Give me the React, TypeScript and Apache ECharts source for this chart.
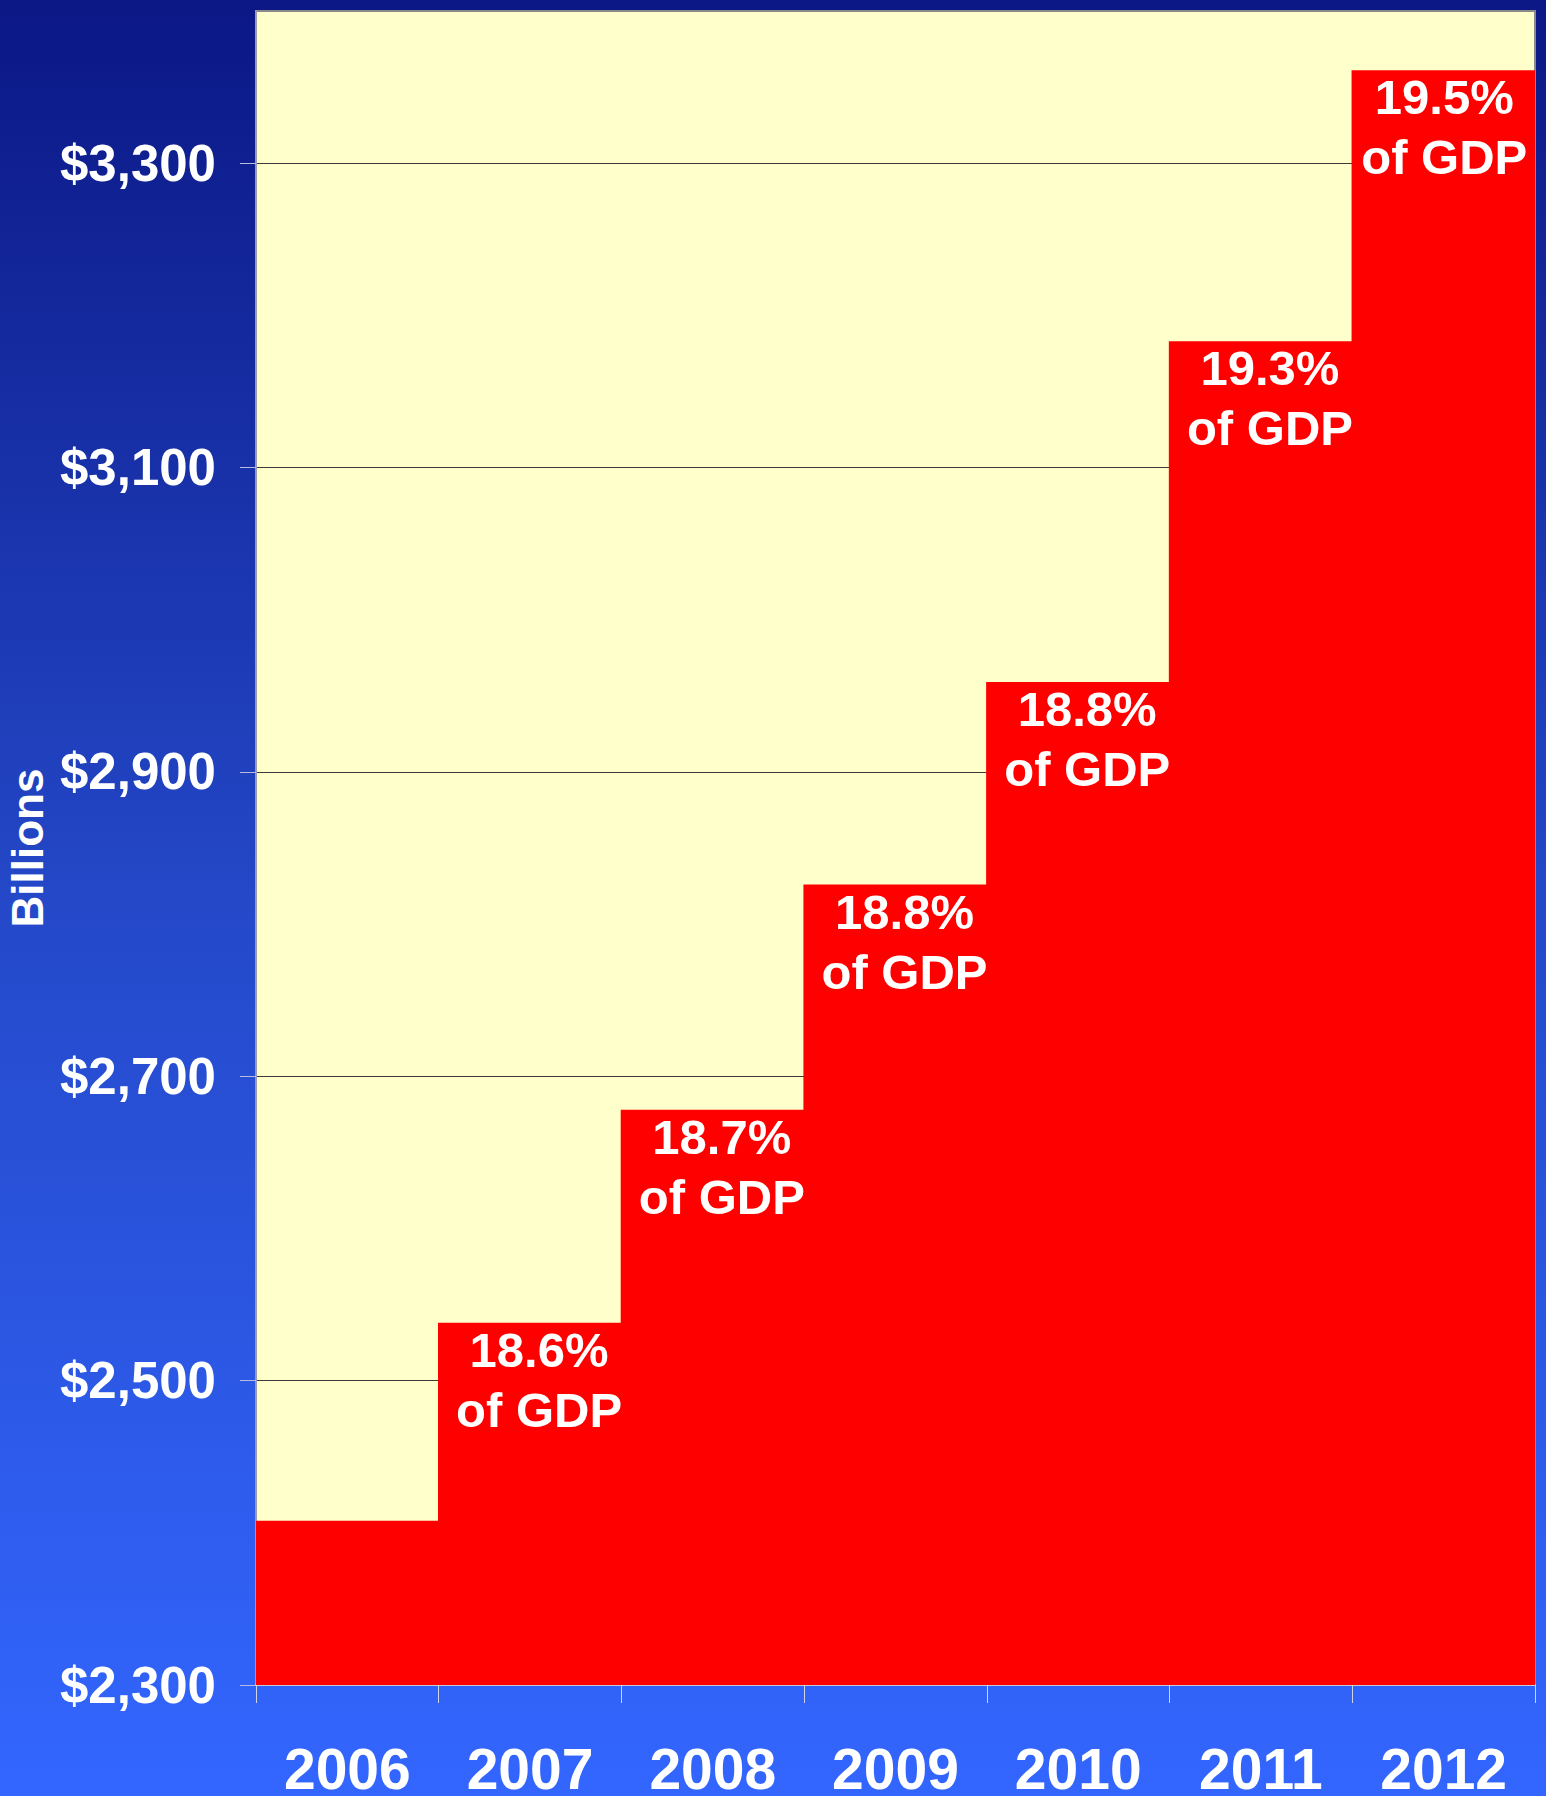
import React, { useEffect, useRef } from "react";
import * as echarts from "echarts";

const years = ["2006", "2007", "2008", "2009", "2010", "2011", "2012"];
const revenueBillions = [2408, 2538, 2678, 2826, 2959, 3183, 3361];
const gdpShare = ["", "18.6%", "18.7%", "18.8%", "18.8%", "19.3%", "19.5%"];
const yTickValues = [2300, 2500, 2700, 2900, 3100, 3300];
const yMin = 2300;
const yMax = 3400;

const FONT = '"Liberation Sans", Arial, Helvetica, sans-serif';

export default function App() {
  const ref = useRef<HTMLDivElement>(null);

  useEffect(() => {
    if (!ref.current) return;
    const chart = echarts.init(ref.current, undefined, { renderer: "svg" });
    const last = revenueBillions.length - 1;
    const barData = revenueBillions.map((v, i) => ({
      value: v,
      label: { offset: [i === last ? 1 : 9, 0] },
    }));
    chart.setOption({
      animation: false,
      backgroundColor: new echarts.graphic.LinearGradient(0, 0, 0, 1, [
        { offset: 0, color: "#0B1785" },
        { offset: 0.5, color: "#2448C8" },
        { offset: 1, color: "#3366FF" },
      ]),
      textStyle: { fontFamily: FONT },
      grid: {
        left: 256,
        right: 11,
        top: 11,
        bottom: 111,
        containLabel: false,
        outerBoundsMode: "none",
        show: true,
        backgroundColor: "#FFFFCC",
        borderColor: "#8a8a8a",
        borderWidth: 2,
      },
      xAxis: {
        type: "category",
        data: years,
        boundaryGap: true,
        axisLine: { show: true, lineStyle: { color: "#c8c8d0", width: 2 } },
        axisTick: {
          show: true,
          alignWithLabel: false,
          length: 18,
          lineStyle: { color: "#d0d4e8", width: 1 },
        },
        axisLabel: {
          color: "#ffffff",
          fontWeight: "bold",
          fontSize: 57,
          lineHeight: 44,
          fontFamily: FONT,
          margin: 62,
        },
        splitLine: { show: false },
      },
      yAxis: {
        type: "value",
        min: yMin,
        max: yMax,
        name: "Billions",
        nameLocation: "middle",
        nameGap: 205,
        nameRotate: 90,
        nameTextStyle: {
          color: "#ffffff",
          fontWeight: "bold",
          fontSize: 44,
          fontFamily: FONT,
        },
        axisLine: { show: true, lineStyle: { color: "#9a9aa8", width: 2 } },
        axisTick: {
          show: true,
          length: 16,
          customValues: yTickValues,
          lineStyle: { color: "#b8bde0", width: 1 },
        },
        axisLabel: {
          customValues: yTickValues,
          color: "#ffffff",
          fontWeight: "bold",
          fontSize: 51,
          fontFamily: FONT,
          margin: 40,
          formatter: (v: number) => "$" + v.toLocaleString("en-US"),
        },
        splitLine: { show: true, lineStyle: { color: "#3a3a3a", width: 1 } },
      },
      series: [
        {
          type: "bar",
          data: barData,
          barWidth: "100.8%",
          itemStyle: { color: "#FF0000" },
          label: {
            show: true,
            position: "insideTop",
            distance: -3,
            color: "#ffffff",
            fontWeight: "bold",
            fontSize: 49,
            lineHeight: 60,
            fontFamily: FONT,
            formatter: (p: any) =>
              gdpShare[p.dataIndex] ? gdpShare[p.dataIndex] + "\nof GDP" : "",
          },
        },
      ],
    });
    return () => chart.dispose();
  }, []);

  return (
    <div
      ref={ref}
      style={{ position: "absolute", left: 0, top: 0, width: 1546, height: 1796 }}
    />
  );
}
